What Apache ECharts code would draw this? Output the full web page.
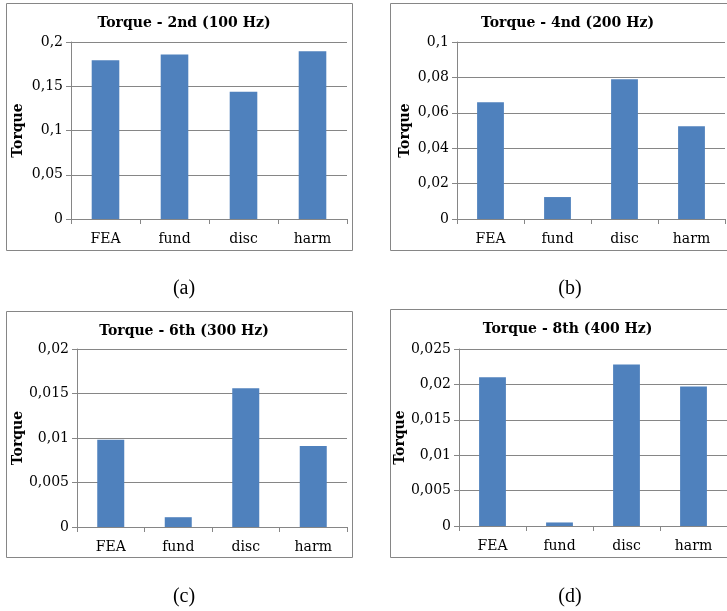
<!DOCTYPE html>
<html>
<head>
<meta charset="utf-8">
<script src="https://cdn.jsdelivr.net/npm/echarts@6/dist/echarts.min.js"></script>
<style>
  html, body { margin: 0; padding: 0; background: #fff; }
  #chart { width: 727px; height: 611px; }
</style>
</head>
<body>
<div id="chart"></div>
<script>
// Torque harmonics: four methods compared at each harmonic order
const categories = ['FEA', 'fund', 'disc', 'harm'];

const titles = ['Torque - 2nd (100 Hz)', 'Torque - 4nd (200 Hz)', 'Torque - 6th (300 Hz)', 'Torque - 8th (400 Hz)'];
const captions = ['(a)', '(b)', '(c)', '(d)'];

const torque2nd = [0.1794, 0.186, 0.1437, 0.1895];
const torque4th = [0.066, 0.0124, 0.079, 0.0524];
const torque6th = [0.0098, 0.0011, 0.0156, 0.0091];
const torque8th = [0.021, 0.0005, 0.0228, 0.0197];

const yMax = [0.2, 0.1, 0.02, 0.025];
const yStep = [0.05, 0.02, 0.005, 0.005];

const seriesData = [torque2nd, torque4th, torque6th, torque8th];

// panel geometry: frame box and plot area (pixels)
const frames = [
  { x: 6, y: 3, w: 346, h: 247 },
  { x: 390, y: 3, w: 345, h: 247 },
  { x: 6, y: 311, w: 346, h: 246 },
  { x: 390, y: 309, w: 345, h: 248 }
];
const plots = [
  { left: 71, top: 42, right: 347, bottom: 219 },
  { left: 457, top: 42, right: 725, bottom: 219 },
  { left: 77, top: 349, right: 347, bottom: 527 },
  { left: 459, top: 349, right: 727, bottom: 526 }
];
const captionPos = [[184, 289], [570, 289], [184, 597], [570, 597]];
const nameGaps = [46, 45, 52, 44];

const SERIF = '"DejaVu Serif", "Liberation Serif", serif';
const GRAY = '#868686';
const BAR = '#4F81BD';

const fmt = v => String(+v.toFixed(4)).replace('.', ',');

const option = {
  animation: false,
  backgroundColor: '#fff',
  title: titles.map((t, i) => ({
    text: t,
    left: frames[i].x + frames[i].w / 2,
    top: frames[i].y + 8,
    textAlign: 'center',
    textStyle: { fontFamily: SERIF, fontWeight: 'bold', fontSize: 14, color: '#000' }
  })),
  graphic: [
    ...frames.map(f => ({
      type: 'rect',
      shape: { x: f.x + 0.5, y: f.y + 0.5, width: f.w, height: f.h },
      style: { fill: 'none', stroke: GRAY, lineWidth: 1 },
      silent: true
    })),
    ...captions.map((c, i) => ({
      type: 'text',
      x: captionPos[i][0],
      y: captionPos[i][1],
      style: {
        text: c, fill: '#000', font: '20px "Liberation Serif", serif',
        textAlign: 'center', textVerticalAlign: 'middle'
      },
      silent: true
    }))
  ],
  grid: plots.map(p => ({
    left: p.left, top: p.top, width: p.right - p.left, height: p.bottom - p.top,
    containLabel: false
  })),
  xAxis: plots.map((p, i) => ({
    type: 'category',
    gridIndex: i,
    data: categories,
    axisLine: { lineStyle: { color: GRAY } },
    axisTick: { show: true, length: 5, lineStyle: { color: GRAY } },
    axisLabel: { fontFamily: SERIF, fontSize: 14, color: '#000', margin: 13 }
  })),
  yAxis: plots.map((p, i) => ({
    type: 'value',
    gridIndex: i,
    min: 0,
    max: yMax[i],
    interval: yStep[i],
    name: 'Torque',
    nameLocation: 'middle',
    nameGap: nameGaps[i],
    nameTextStyle: { fontFamily: SERIF, fontWeight: 'bold', fontSize: 14, color: '#000' },
    axisLine: { show: true, lineStyle: { color: GRAY } },
    axisTick: { show: true, length: 5, lineStyle: { color: GRAY } },
    splitLine: { lineStyle: { color: GRAY } },
    axisLabel: { fontFamily: SERIF, fontSize: 14, color: '#000', margin: 8, formatter: fmt }
  })),
  series: seriesData.map((d, i) => ({
    type: 'bar',
    xAxisIndex: i,
    yAxisIndex: i,
    data: d,
    barWidth: '40%',
    itemStyle: { color: BAR }
  }))
};

const chart = echarts.init(document.getElementById('chart'), null, { renderer: 'canvas' });
chart.setOption(option);
</script>
</body>
</html>
